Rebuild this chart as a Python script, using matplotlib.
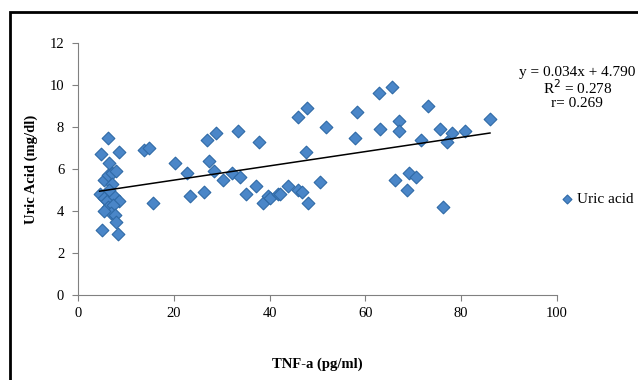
import matplotlib.pyplot as plt
from matplotlib.patches import Rectangle

# TNF-a (pg/ml) vs uric acid (mg/dl)
tnf = [4.8, 6.2, 8.6, 6.5, 5.5, 6.3, 7.0, 8.0, 7.0, 4.5, 5.5, 6.0, 7.5, 8.5,
       6.3, 7.3, 6.8, 7.8, 8.0, 5.0, 8.4, 5.5, 6.5, 13.8, 14.8, 15.6,
       20.3, 22.7, 23.4, 26.4, 26.9, 27.4, 28.3, 28.9, 30.3, 32.1, 33.3, 33.8,
       35.0, 37.2, 37.8, 38.7, 39.7, 40.1, 41.8, 42.2, 43.9, 46.0, 46.0, 46.7,
       47.6, 47.9, 48.1, 50.5, 51.7, 57.8, 58.2, 62.9, 63.0, 65.6, 66.2, 67.0,
       67.0, 68.6, 69.1, 70.6, 71.7, 73.0, 75.6, 76.1, 77.1, 78.1, 80.8, 86.0]
uric = [6.7, 7.5, 6.8, 6.3, 5.5, 5.7, 5.8, 5.9, 5.3, 4.8, 4.6, 4.5, 4.7, 4.5,
        4.2, 4.3, 3.9, 3.8, 3.5, 3.1, 2.9, 4.0, 5.0, 6.9, 7.0, 4.4,
        6.3, 5.8, 4.7, 4.9, 7.4, 6.4, 5.9, 7.7, 5.5, 5.8, 7.8, 5.6,
        4.8, 5.2, 7.3, 4.4, 4.7, 4.6, 4.8, 4.8, 5.2, 8.5, 5.0, 4.9,
        6.8, 8.9, 4.4, 5.4, 8.0, 7.5, 8.7, 9.6, 7.9, 9.9, 5.5, 8.3,
        7.8, 5.0, 5.8, 5.6, 7.4, 9.0, 7.9, 4.2, 7.3, 7.7, 7.8, 8.4]

slope, intercept = 0.034, 4.790
r_squared, r_value = 0.278, 0.269

serif = ['Liberation Serif', 'DejaVu Serif']
plt.rcParams['font.family'] = serif

fig = plt.figure(figsize=(6.38, 3.80), dpi=100)
ax = fig.add_axes([0.1223, 0.2237, 0.7508, 0.6631])

# outer chart frame
fig.patches.append(Rectangle((0.0157, -0.1), 1.1, 1.068, transform=fig.transFigure,
                             fill=False, edgecolor='black', linewidth=2))

ax.scatter(tnf, uric, marker='D', s=42, color='#4a86c8', edgecolors='#2f6aa6',
           linewidths=0.8, label='Uric acid', zorder=3)

x0, x1 = min(tnf), max(tnf)
ax.plot([x0, x1], [slope * x0 + intercept, slope * x1 + intercept],
        color='black', linewidth=1.1, zorder=4)

ax.set_xlim(0, 100)
ax.set_ylim(0, 12)
ax.set_xticks(range(0, 101, 20))
ax.set_yticks(range(0, 13, 2))
for side in ('top', 'right'):
    ax.spines[side].set_visible(False)
for side in ('left', 'bottom'):
    ax.spines[side].set_color('#808080')
ax.tick_params(direction='out', length=4, color='#808080', labelsize=10.5)
ax.tick_params(axis='x', pad=5)
ax.tick_params(axis='y', pad=6)

ax.set_xlabel('TNF-a (pg/ml)', fontsize=10.5, fontweight='bold', labelpad=27)
ax.set_ylabel('Uric Acid (mg/dl)', fontsize=10.5, fontweight='bold', labelpad=8)

cx = 0.905
fig.text(cx, 0.81, f'y = {slope:.3f}x + {intercept:.3f}', fontsize=11,
         ha='center', va='center')
fig.text(cx, 0.77, f'R$^2$ = {r_squared:.3f}', fontsize=11,
         ha='center', va='center')
fig.text(cx, 0.728, f'r= {r_value:.3f}', fontsize=11,
         ha='center', va='center')

ax.legend(loc='center left', bbox_to_anchor=(1.0, 0.381), frameon=False,
          fontsize=11, handlelength=0.9, handletextpad=0.2, markerscale=0.7,
          borderaxespad=0.0, borderpad=0.2)

fig.savefig('out.png', dpi=100)
